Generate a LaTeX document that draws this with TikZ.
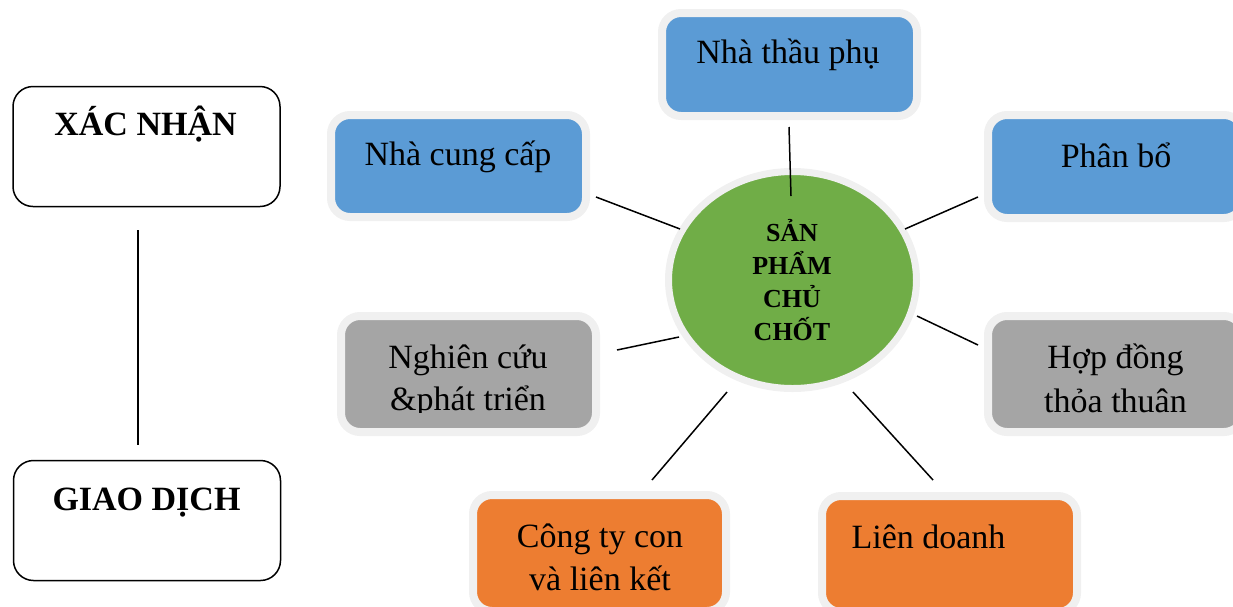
\documentclass[tikz,border=0pt]{standalone}
\usepackage{fontspec}
\setmainfont{Liberation Serif}
\usetikzlibrary{shapes.geometric}
\definecolor{cblue}{HTML}{5B9BD5}
\definecolor{cgray}{HTML}{A5A5A5}
\definecolor{corange}{HTML}{ED7D31}
\definecolor{cgreen}{HTML}{70AD47}
\definecolor{cborder}{HTML}{F0F0F0}
\begin{document}
\begin{tikzpicture}[x=1pt,y=-1pt,
  card/.style={rectangle, rounded corners=19pt, draw=cborder, line width=8pt, inner sep=0pt, minimum width=255pt},
  plainbox/.style={rectangle, rounded corners=20pt, draw=black, line width=1.5pt, inner sep=0pt, minimum width=267pt, minimum height=120pt},
  lbl/.style={anchor=base, font=\fontsize{34}{43}\selectfont, align=center, inner sep=0pt},
  blbl/.style={anchor=base, font=\bfseries\fontsize{34}{43}\selectfont, align=center, inner sep=0pt},
  conn/.style={draw=black, line width=1.5pt}]
\useasboundingbox (0,0) rectangle (1233,606);

% left boxes
\node[plainbox] (xacnhan) at (146.5,146.5) {};
\node[plainbox] (giaodich) at (147,520.5) {};
\node[blbl] (txn) at (145.5,135) {XÁC NHẬN};
\node[blbl] (tgd) at (146.5,510) {GIAO DỊCH};
\coordinate (v1) at (138,230);
\coordinate (v2) at (138,445);
\draw[conn] (v1) -- (v2);

% cards
\node[card, fill=cblue, minimum height=103pt] (thau) at (789.5,64.5) {};
\node[card, fill=cblue, minimum height=102pt] (cung) at (458.5,166) {};
\node[card, fill=cblue, minimum height=103pt] (phanbo) at (1115.5,166.5) {};
\node[card, fill=cgray, minimum height=116pt] (nghien) at (468.5,374) {};
\node[card, fill=cgray, minimum height=116pt] (hopdong) at (1115.5,374) {};
\node[card, fill=corange, minimum width=253pt, minimum height=116pt] (congty) at (599.5,553) {};
\node[card, fill=corange, minimum height=116pt] (liendoanh) at (949.5,554) {};

% core
\node[ellipse, fill=cgreen, draw=cborder, line width=7pt, minimum width=248pt, minimum height=217pt, inner sep=0pt] (core) at (792.5,280) {};
\node[anchor=base, font=\bfseries\fontsize{26}{33}\selectfont, align=center, inner sep=0pt] (coretext) at (792,340) {SẢN\\PHẨM\\CHỦ\\CHỐT};

% labels
\node[lbl] (tthau) at (788,63) {Nhà thầu phụ};
\node[lbl] (tcung) at (458,165) {Nhà cung cấp};
\node[lbl] (tphanbo) at (1116,167) {Phân bổ};
\begin{scope}
\clip (341,300) rectangle (596,412);
\node[lbl] (tnghien) at (468,410) {Nghiên cứu\\[-1pt]\&phát triển};
\end{scope}
\node[lbl] (thopdong) at (1115.5,412) {Hợp đồng\\[1pt]thỏa thuân};
\node[lbl] (tcongty) at (600,590) {Công ty con\\và liên kết};
\node[lbl] (tlien) at (928.5,548) {Liên doanh};

% connectors
\coordinate (a1) at (789,127); \coordinate (b1) at (791,196);
\coordinate (a2) at (596,197); \coordinate (b2) at (680,229);
\coordinate (a3) at (905,229); \coordinate (b3) at (978,197);
\coordinate (a4) at (617,350); \coordinate (b4) at (679,337);
\coordinate (a5) at (917,316); \coordinate (b5) at (978,345);
\coordinate (a6) at (727,392); \coordinate (b6) at (652,480);
\coordinate (a7) at (853,392); \coordinate (b7) at (933,480);
\draw[conn] (a1) -- (b1);
\draw[conn] (a2) -- (b2);
\draw[conn] (a3) -- (b3);
\draw[conn] (a4) -- (b4);
\draw[conn] (a5) -- (b5);
\draw[conn] (a6) -- (b6);
\draw[conn] (a7) -- (b7);
\end{tikzpicture}
\end{document}
